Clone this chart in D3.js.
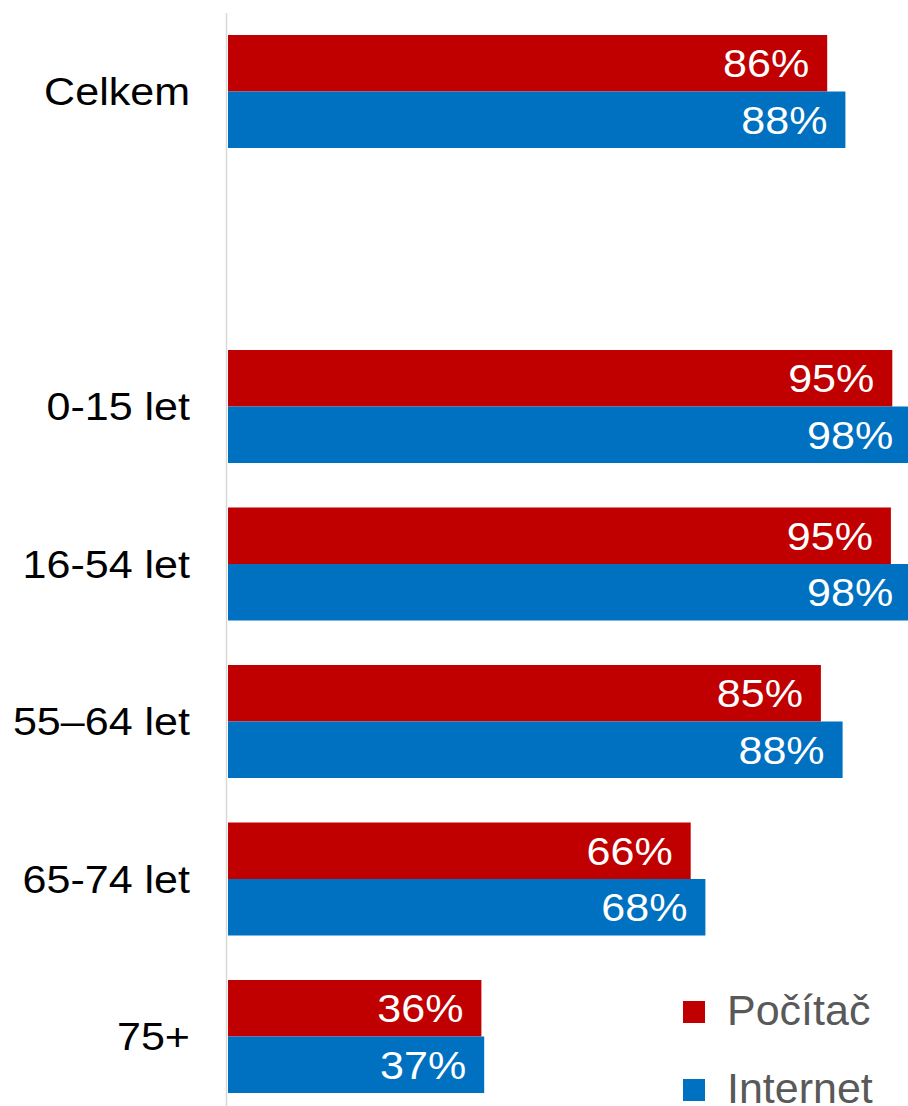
<!DOCTYPE html>
<html>
<head>
<meta charset="utf-8">
<script src="https://cdn.jsdelivr.net/npm/d3@7"></script>
<style>
  html, body { margin: 0; padding: 0; background: #fff; overflow: hidden; }
  svg { display: block; font-family: Arial, "Liberation Sans", sans-serif; }
</style>
</head>
<body>
<svg id="chart"></svg>
<script>
/* Počítač / Internet by age group, horizontal grouped bars. */
var categories = ["Celkem", "0-15 let", "16-54 let", "55–64 let", "65-74 let", "75+"];
var slots = ["Celkem", "_gap", "0-15 let", "16-54 let", "55–64 let", "65-74 let", "75+"];
var seriesNames = ["Počítač", "Internet"];
var pocitac = [85.6, 94.9, 94.7, 84.7, 66.1, 36.2];
var internet = [88.2, 97.6, 97.6, 87.8, 68.2, 36.6];
var colors = ["#C00000", "#0070C0"];

(function () {
  var W = 908, H = 1106;
  var svg = d3.select("#chart").attr("width", W).attr("height", H);
  var stretch = "scale(1.09,1)";

  var x = d3.scaleLinear().domain([0, 100]).range([228, 928]);
  var y = d3.scaleBand().domain(slots).range([35, 1093]).paddingInner(0.2825);
  var ySub = d3.scaleBand().domain(seriesNames).range([0, y.bandwidth()]);

  var rows = categories.map(function (c, i) {
    return { cat: c, vals: [pocitac[i], internet[i]] };
  });

  svg.append("line")
    .attr("x1", x(0) - 1.5).attr("x2", x(0) - 1.5)
    .attr("y1", 13).attr("y2", H)
    .attr("stroke", "#d9d9d9").attr("stroke-width", 1.5);

  var grp = svg.selectAll("g.row")
    .data(rows)
    .join("g")
    .attr("class", "row")
    .attr("transform", function (d) { return "translate(0," + y(d.cat) + ")"; });

  var bars = grp.selectAll("g.bar")
    .data(function (d) {
      return d.vals.map(function (v, j) { return { s: seriesNames[j], v: v, j: j }; });
    })
    .join("g")
    .attr("class", "bar");

  bars.append("rect")
    .attr("x", x(0))
    .attr("y", function (d) { return ySub(d.s); })
    .attr("width", function (d) { return x(d.v) - x(0); })
    .attr("height", ySub.bandwidth())
    .attr("fill", function (d) { return colors[d.j]; });

  bars.append("text")
    .attr("transform", function (d) {
      return "translate(" + (x(d.v) - 18) + "," + (ySub(d.s) + ySub.bandwidth() / 2) + ") " + stretch;
    })
    .attr("dy", "0.36em")
    .attr("text-anchor", "end")
    .attr("fill", "#fff")
    .style("font-size", "39.5px")
    .text(function (d) { return Math.round(d.v) + "%"; });

  grp.append("text")
    .attr("transform", function () {
      return "translate(190," + (y.bandwidth() / 2) + ") " + stretch;
    })
    .attr("dy", "0.35em")
    .attr("text-anchor", "end")
    .attr("fill", "#000")
    .style("font-size", "39.5px")
    .text(function (d) { return d.cat; });

  var leg = svg.selectAll("g.legend")
    .data(seriesNames)
    .join("g")
    .attr("class", "legend")
    .attr("transform", function (d, i) { return "translate(683," + (1001 + i * 78) + ")"; });

  leg.append("rect")
    .attr("width", 22).attr("height", 22)
    .attr("fill", function (d, i) { return colors[i]; });

  leg.append("text")
    .attr("x", 44).attr("y", 24)
    .attr("fill", "#595959")
    .style("font-size", "43px")
    .text(function (d) { return d; });
})();
</script>
</body>
</html>
